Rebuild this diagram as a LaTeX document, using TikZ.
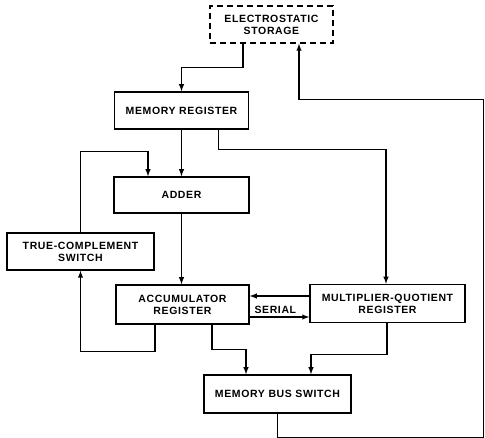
\documentclass[tikz,border=0pt]{standalone}
\usepackage{fontspec}
\newfontfamily\blockfont[LetterSpace=6]{Liberation Sans}
\usetikzlibrary{calc}

\begin{document}
\begin{tikzpicture}[
		x=1pt, y=-1pt,
		font=\blockfont\bfseries\fontsize{10.5}{12}\selectfont,
		% Style for the register / unit blocks
		block/.style={draw, line width=1.5pt, align=center, inner sep=0pt},
		% Style for the storage unit outside the machine
		store/.style={block, dashed, dash pattern=on 6pt off 4pt},
		% Connector styles
		arrow/.style={->, >=latex, line width=1.4pt}
		]
		
		\useasboundingbox (0,0) rectangle (485,438);
		
		% ==============================================================================
		% 1. BLOCKS
		% ==============================================================================
		\node[store, minimum width=123, minimum height=37] (stor) at (271.5,24.5) {ELECTROSTATIC\\STORAGE};
		\node[block, minimum width=134, minimum height=37] (mreg) at (181.5,110.5) {MEMORY REGISTER};
		\node[block, minimum width=135, minimum height=36] (adder) at (181.5,195) {ADDER};
		\node[block, minimum width=147, minimum height=37] (tcs) at (80.5,251.5) {TRUE-COMPLEMENT\\SWITCH};
		\node[block, minimum width=133, minimum height=39] (acc) at (182.5,304.5) {ACCUMULATOR\\REGISTER};
		\node[block, minimum width=155, minimum height=38] (mq) at (387.5,303.5) {MULTIPLIER-QUOTIENT\\REGISTER};
		\node[block, minimum width=147, minimum height=38] (mbs) at (277.5,394) {MEMORY BUS SWITCH};
		
		% ==============================================================================
		% 2. CONNECTORS
		% ==============================================================================
		\draw[arrow] ([xshift=-28.5]stor.south) -- ++(0,24) -| (mreg.north);
		\draw[arrow] (mreg.south) -- (adder.north);
		\draw[arrow] ([xshift=37]mreg.south) -- ++(0,20) -| ([xshift=-1.5]mq.north);
		\draw[arrow] (tcs.north) -- ++(0,-81) -| ([xshift=-33.5]adder.north);
		\draw[arrow] (adder.south) -- (adder.south |- acc.north);
		\draw[arrow] ([xshift=-27.5]acc.south) -- ++(0,27) -| (tcs.south);
		
		% Parallel and serial transfers between the two registers
		\draw[arrow] ([yshift=7.5]mq.west) -- ([yshift=7.5]mq.west -| acc.east);
		\draw[arrow] ([yshift=-12.5]acc.east) -- ([yshift=-12.5]acc.east -| mq.west)
			node[pos=0.43, above=-1pt] (serial) {SERIAL};
		
		\draw[arrow] ([xshift=29.5]acc.south) -- ++(0,25) -| ([xshift=-31.5]mbs.north);
		\draw[arrow] ([xshift=-0.5]mq.south) -- ++(0,31) -| ([xshift=33.5]mbs.north);
		
		% Return path to storage
		\draw[arrow] (mbs.south) -- ++(0,24) -| ++(206,-338) -| ([xshift=27.5]stor.south);
	\end{tikzpicture}
\end{document}
